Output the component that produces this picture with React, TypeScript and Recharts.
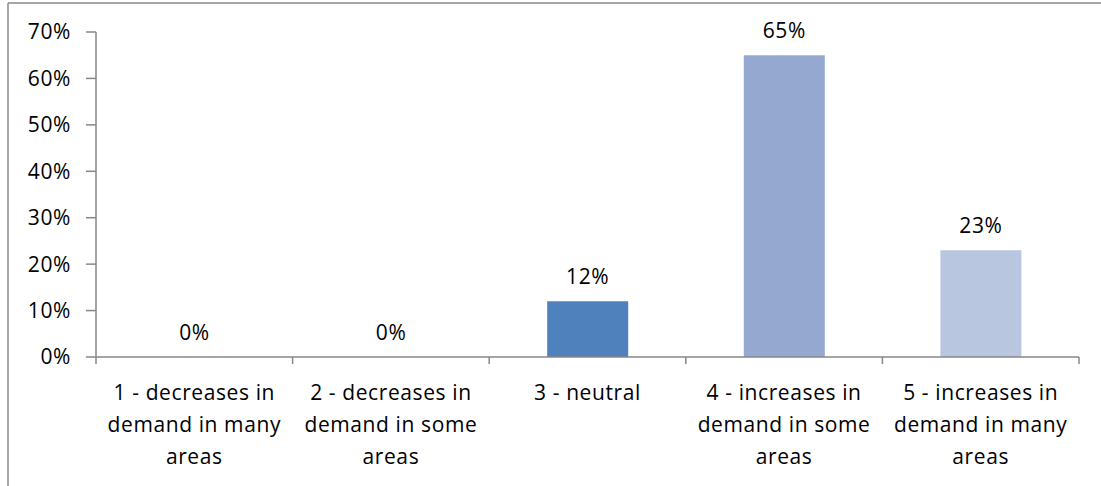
import React from 'react';
import { BarChart, Bar, XAxis, YAxis, Cell, LabelList, Customized } from 'recharts';

// Survey responses: expected change in demand
const categories = [
  '1 - decreases in\ndemand in many\nareas',
  '2 - decreases in\ndemand in some\nareas',
  '3 - neutral',
  '4 - increases in\ndemand in some\nareas',
  '5 - increases in\ndemand in many\nareas',
];
const shares = [0, 0, 12, 65, 23];
const barColors = ['#4F81BD', '#4F81BD', '#4F81BD', '#95A9D0', '#B9C6E0'];
const yTicks = [0, 10, 20, 30, 40, 50, 60, 70];

const data = categories.map((name, i) => ({ name, value: shares[i] }));

const WIDTH = 1101;
const HEIGHT = 486;
const MARGIN = { top: 32, right: 22, bottom: 0, left: 0 };
const Y_AXIS_WIDTH = 96;
const FONT = '"Open Sans", sans-serif';
const FONT_SIZE = 21;
const SPACING = 0.6;
const AXIS_COLOR = '#878787';

const plotWidth = WIDTH - MARGIN.left - MARGIN.right - Y_AXIS_WIDTH;
const halfBand = plotWidth / categories.length / 2;

// Multi-line category label plus Excel-style ticks between categories
const CategoryTick = (props: any) => {
  const { x, y, payload, index } = props;
  const lines: string[] = String(payload.value).split('\n');
  const isLast = index === categories.length - 1;
  return (
    <g>
      <line x1={x - halfBand} x2={x - halfBand} y1={y - 8} y2={y - 1} stroke={AXIS_COLOR} strokeWidth={1.5} />
      {isLast && (
        <line x1={x + halfBand} x2={x + halfBand} y1={y - 8} y2={y - 1} stroke={AXIS_COLOR} strokeWidth={1.5} />
      )}
      <text x={x} y={y} textAnchor="middle" fontFamily={FONT} fontSize={FONT_SIZE} letterSpacing={SPACING} fill="#000">
        {lines.map((line, i) => (
          <tspan key={i} x={x} dy={i === 0 ? 35 : 32}>
            {line}
          </tspan>
        ))}
      </text>
    </g>
  );
};

// chart-area frame: only its top and left edges fall inside the canvas
const Frame = () => (
  <g>
    <line x1={8} y1={3} x2={WIDTH} y2={3} stroke="#8a8a8a" strokeWidth={1.5} />
    <line x1={8} y1={3} x2={8} y2={HEIGHT} stroke="#8a8a8a" strokeWidth={1.5} />
  </g>
);

// keep a hairline rect for zero values so their labels still render
const minHeight = (value: any) => (Number(value) === 0 ? 0.01 : 0);

export default function App() {
  return (
    <div style={{ position: 'absolute', left: 0, top: 0, width: WIDTH, height: HEIGHT, overflow: 'hidden', background: '#fff' }}>
      <BarChart width={WIDTH} height={HEIGHT} data={data} margin={MARGIN} barCategoryGap="29.5%">
        <Customized component={Frame} />
        <XAxis
          dataKey="name"
          interval={0}
          height={129}
          tickLine={false}
          axisLine={{ stroke: AXIS_COLOR, strokeWidth: 1.5 }}
          tick={<CategoryTick />}
        />
        <YAxis
          width={Y_AXIS_WIDTH}
          domain={[0, 70]}
          ticks={yTicks}
          interval={0}
          tickFormatter={(v: number) => `${v}%`}
          tickSize={10}
          tickMargin={15}
          axisLine={{ stroke: AXIS_COLOR, strokeWidth: 1.5 }}
          tickLine={{ stroke: AXIS_COLOR, strokeWidth: 1.5 }}
          tick={{ fontFamily: FONT, fontSize: FONT_SIZE, letterSpacing: SPACING, fill: '#000' }}
        />
        <Bar dataKey="value" isAnimationActive={false} minPointSize={minHeight}>
          {data.map((d, i) => (
            <Cell key={d.name} fill={barColors[i]} />
          ))}
          <LabelList
            dataKey="value"
            position="top"
            offset={17}
            formatter={(v: any) => `${v}%`}
            style={{ fontFamily: FONT, fontSize: FONT_SIZE, letterSpacing: SPACING, fill: '#000' }}
          />
        </Bar>
      </BarChart>
    </div>
  );
}
